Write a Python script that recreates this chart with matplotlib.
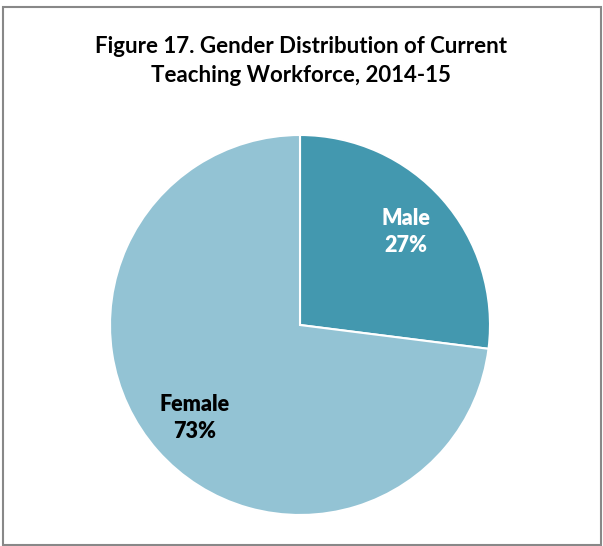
import matplotlib.pyplot as plt
from matplotlib.patches import Rectangle

# data
categories = ['Male', 'Female']
shares = [27, 73]
colors = ['#4398AF', '#93C3D4']
label_colors = ['white', 'black']

plt.rcParams['font.family'] = ['Lato', 'DejaVu Sans']

W, H = 603, 546
fig = plt.figure(figsize=(W / 100, H / 100), dpi=100)
ax = fig.add_axes([0, 0, 1, 1])

labels = [f"{c}\n{v}%" for c, v in zip(categories, shares)]
wedges, texts = ax.pie(shares, colors=colors, startangle=90, counterclock=False,
                       center=(300, H - 325), radius=190,
                       labels=labels, labeldistance=0.74,
                       wedgeprops=dict(edgecolor='white', linewidth=1.5),
                       textprops=dict(ha='center', va='center', fontsize=15.5,
                                      fontweight='heavy', linespacing=1.4))
for t, c in zip(texts, label_colors):
    t.set_color(c)

ax.set_xlim(0, W)
ax.set_ylim(0, H)
ax.set_aspect('auto')
ax.axis('off')

fig.text(301 / W, 1 - 61 / H,
         'Figure 17. Gender Distribution of Current\nTeaching Workforce, 2014-15',
         ha='center', va='center', fontsize=16, fontweight='bold', linespacing=1.5)

fig.patches.append(Rectangle((3 / W, 1 / H), 598 / W, 538 / H, transform=fig.transFigure,
                             fill=False, edgecolor='#888888', linewidth=1.5))

fig.savefig('out.png', dpi=100)
